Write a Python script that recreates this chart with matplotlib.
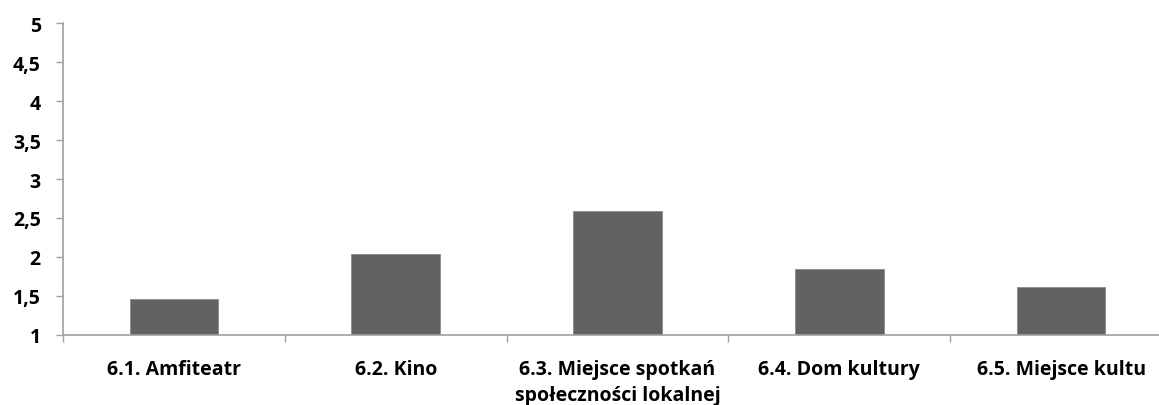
import matplotlib
matplotlib.use("Agg")
import matplotlib.pyplot as plt
import numpy as np

categories = ["6.1. Amfiteatr", "6.2. Kino", "6.3. Miejsce spotkań\nspołeczności lokalnej",
              "6.4. Dom kultury", "6.5. Miejsce kultu"]
values = [1.46, 2.04, 2.59, 1.84, 1.61]
yticks = [1, 1.5, 2, 2.5, 3, 3.5, 4, 4.5, 5]
ytick_labels = ["1", "1,5", "2", "2,5", "3", "3,5", "4", "4,5", "5"]

plt.rcParams['font.family'] = ['Open Sans', 'DejaVu Sans']
plt.rcParams['font.weight'] = 'bold'

fig = plt.figure(figsize=(11.59, 4.06), dpi=100)
W, H = 1159, 406
ax = fig.add_axes([63 / W, (H - 336) / H, (1172 - 63) / W, (336 - 24) / H])

x = np.arange(len(categories))
base = 1
ax.bar(x, [v - base for v in values], bottom=base, width=0.4, color="#626262",
       edgecolor="#8a8a8a", linewidth=0.6, zorder=2)

ax.set_xlim(-0.5, len(categories) - 0.5)
ax.set_ylim(1, 5)
ax.set_yticks(yticks)
ax.set_yticklabels(ytick_labels, fontsize=14, fontweight='bold')

ax.set_xticks(x)
ax.set_xticklabels(categories, fontsize=14, fontweight='bold', linespacing=1.4)
ax.set_xticks(np.arange(len(categories) + 1) - 0.5, minor=True)
ax.tick_params(axis='x', which='major', length=0, pad=17)
ax.tick_params(axis='x', which='minor', length=5, width=1, color="#a0a0a0", direction='out')
ax.tick_params(axis='y', which='major', length=5, width=1, color="#a0a0a0", direction='out', pad=11)

for s in ['top', 'right']:
    ax.spines[s].set_visible(False)
for s in ['left', 'bottom']:
    ax.spines[s].set_color("#a0a0a0")
    ax.spines[s].set_linewidth(1.2)

fig.savefig("out.png", dpi=100)
